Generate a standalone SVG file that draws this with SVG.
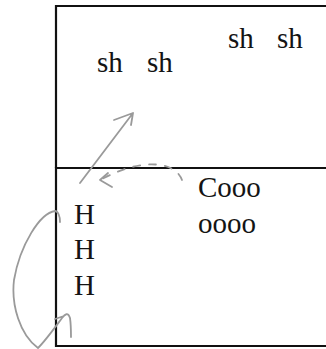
<svg xmlns="http://www.w3.org/2000/svg" width="326" height="349" viewBox="0 0 326 349">
<style>
.t{font-family:"Liberation Serif","Times New Roman",serif;font-size:29px;fill:#141414}
.box{fill:none;stroke:#111;stroke-width:2.2}
.pen{fill:none;stroke:#9a9a9a;stroke-width:1.8;stroke-linecap:round;stroke-linejoin:round}
.dash{stroke-dasharray:7 9}
</style>
<rect width="326" height="349" fill="#fff"/>
<g id="top-panel">
<path class="box" d="M340,6 H56 V168"/>
<text class="t" x="97" y="72">sh</text>
<text class="t" x="147" y="72">sh</text>
<text class="t" x="228" y="48">sh</text>
<text class="t" x="277" y="48">sh</text>
</g>
<g id="bottom-panel">
<path class="box" d="M340,168 H56 V346 H340"/>
<text class="t" x="198" y="197">Cooo</text>
<text class="t" x="198" y="233">oooo</text>
<text class="t" x="74" y="224">H</text>
<text class="t" x="74" y="259">H</text>
<text class="t" x="74" y="295">H</text>
</g>
<g id="connectors">
<path class="pen" d="M80,183 L133,113 M114,120 L133,113 L131,125"/>
<path class="pen dash" d="M182,180 C176,163 145,156 102,179"/>
<path class="pen" d="M108,173 L100,180 L112,187"/>
<path class="pen" d="M60,222 C60,216 58,211 55,211 C40,213 20,245 14,280 C11,305 20,335 38,348 C46,340 56,326 62,318 C65,314 68,312 70,318 C71,325 71,332 71,337 M55,319 L64,316"/>
</g>
</svg>
